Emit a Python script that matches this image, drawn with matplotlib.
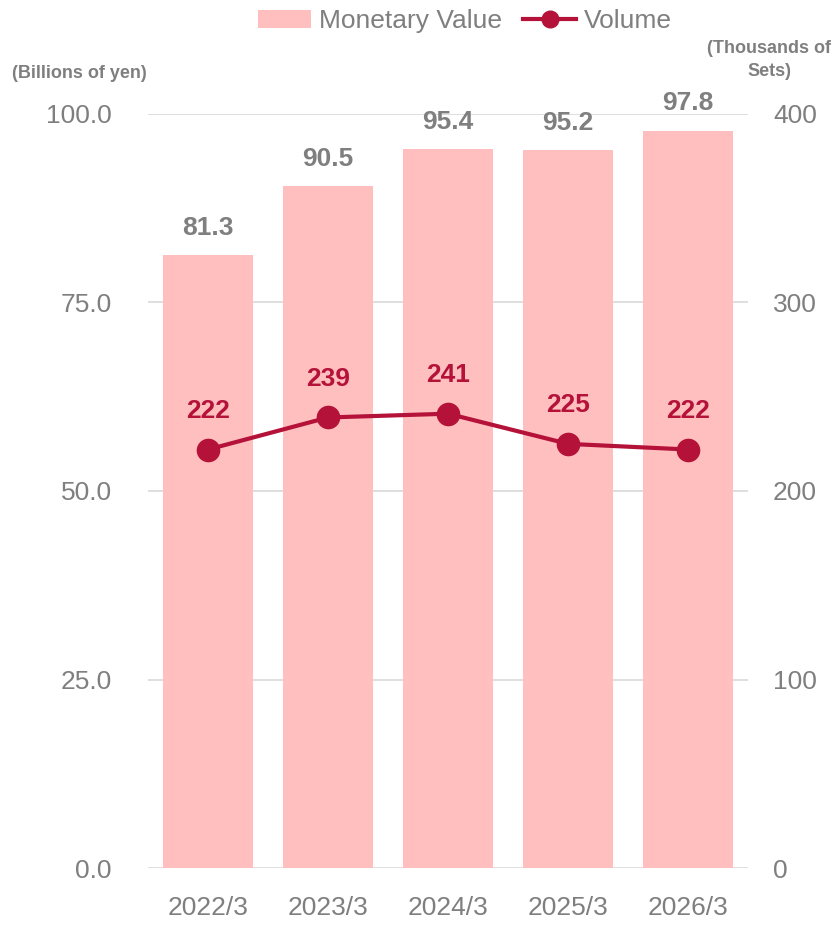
import matplotlib.pyplot as plt

plt.rcParams['font.family'] = ['Liberation Sans', 'DejaVu Sans']

years = ['2022/3', '2023/3', '2024/3', '2025/3', '2026/3']
value = [81.3, 90.5, 95.4, 95.2, 97.8]
volume = [222, 239, 241, 225, 222]

bar_c = '#FFBFBF'
line_c = '#B5123A'
gray = '#7F7F7F'

fig = plt.figure(figsize=(8.38, 9.25), dpi=100)
ax = fig.add_axes([0.1766, 0.0616, 0.716, 0.8152])
x = list(range(len(years)))
ax.bar(x, value, width=0.75, color=bar_c, zorder=2, label='Monetary Value')
ax.set_ylim(0, 100)
ax.set_xlim(-0.5, 4.5)
ax.set_yticks([0, 25, 50, 75, 100])
ax.set_yticklabels(['%.1f' % v for v in [0, 25, 50, 75, 100]])
ax.grid(axis='y', color='#D9D9D9', lw=1.2, zorder=0)
ax.set_xticks(x)
ax.set_xticklabels(years)
for s in ax.spines.values():
    s.set_visible(False)
ax.tick_params(length=0, labelsize=19, colors=gray)
ax.tick_params(axis='x', pad=20)
ax.tick_params(axis='y', pad=26)
for xi, v in zip(x, value):
    ax.text(xi, v + 2, '%.1f' % v, ha='center', va='bottom', fontsize=19,
            fontweight='bold', color=gray)

ax2 = ax.twinx()
ax2.set_ylim(0, 400)
ax2.set_yticks([0, 100, 200, 300, 400])
ax2.plot(x, volume, color=line_c, lw=3, marker='o', ms=16, zorder=3, label='Volume')
for s in ax2.spines.values():
    s.set_visible(False)
ax2.tick_params(length=0, labelsize=19, colors=gray, pad=18)
for xi, v in zip(x, volume):
    ax2.text(xi, v + 14, str(v), ha='center', va='bottom', fontsize=19,
             fontweight='bold', color=line_c)

fig.text(0.095, 0.921, '(Billions of yen)', ha='center', va='center', fontsize=13,
         fontweight='bold', color=gray)
fig.text(0.918, 0.935, '(Thousands of\nSets)', ha='center', va='center', fontsize=13,
         fontweight='bold', color=gray, linespacing=1.45)

h1, l1 = ax.get_legend_handles_labels()
h2, l2 = ax2.get_legend_handles_labels()
fig.legend(h1 + h2, l1 + l2, loc='center', bbox_to_anchor=(0.555, 0.977), ncol=2,
           frameon=False, fontsize=19, labelcolor=gray, handlelength=2.0,
           handletextpad=0.3, columnspacing=0.8, markerscale=0.75)

fig.savefig('out.png', dpi=100)
